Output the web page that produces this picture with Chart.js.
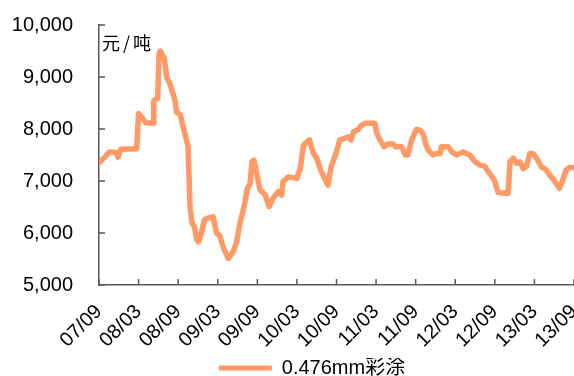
<!DOCTYPE html>
<html>
<head>
<meta charset="utf-8">
<script src="https://cdn.jsdelivr.net/npm/chart.js@4.4.1/dist/chart.umd.min.js"></script>
<style>
  html, body { margin: 0; padding: 0; background: #fff; }
  #wrap { width: 574px; height: 376px; }
</style>
</head>
<body>
<div id="wrap"><canvas id="grafico"></canvas></div>
<script>
// months counted from 2007/09, price in 元/吨
const months = [
  0, 0.8, 1.6, 2.6, 2.9, 3.3, 5.7, 6.0, 6.5, 7.1, 8.2, 8.3, 8.9, 9.1, 9.3, 9.9,
  10.3, 10.8, 11.5, 11.8, 12.3, 12.8, 13.5, 13.8, 14.1, 14.5, 14.8, 15.1, 15.5,
  16.0, 16.6, 17.3, 17.8, 18.3, 18.8, 19.6, 20.3, 20.8, 21.4, 22.1, 22.5, 22.9,
  23.2, 23.5, 23.9, 24.4, 25.2, 25.8, 26.4, 27.2, 27.7, 27.9, 28.7, 30.0, 30.5,
  31.0, 31.9, 32.5, 33.0, 33.6, 34.2, 34.7, 35.2, 36.0, 36.5, 37.3, 37.8, 38.2,
  38.6, 39.3, 39.7, 40.3, 41.8, 42.1, 42.6, 43.2, 43.8, 44.6, 44.9, 45.9, 46.4,
  46.8, 47.4, 48.1, 48.6, 49.1, 49.5, 49.9, 50.6, 51.2, 51.7, 51.9, 52.9, 53.5,
  54.2, 55.2, 55.7, 56.2, 57.0, 57.7, 58.5, 59.0, 59.6, 60.0, 60.5, 62.0, 62.3,
  62.8, 63.3, 63.8, 64.3, 64.8, 65.3, 65.8, 66.5, 67.1, 67.6, 68.3, 69.1, 69.8,
  70.3, 70.8, 71.3, 72.0
];
const prices = [
  7350, 7450, 7560, 7550, 7460, 7610, 7620, 8300, 8220, 8120, 8110, 8540, 8590, 9450, 9500, 9360,
  8980, 8850, 8560, 8320, 8280, 8020, 7660, 6500, 6200, 6100, 5880, 5830, 6000,
  6260, 6290, 6310, 6000, 5950, 5740, 5510, 5630, 5800, 6200, 6570, 6860, 6950,
  7370, 7400, 7150, 6830, 6730, 6510, 6670, 6800, 6730, 6990, 7080, 7050, 7240,
  7690, 7790, 7530, 7440, 7210, 7050, 6920, 7280, 7560, 7790, 7820, 7850, 7790,
  7950, 7990, 8060, 8110, 8110, 7920, 7790, 7660, 7710, 7710, 7660, 7660, 7500,
  7500, 7790, 7990, 7980, 7920, 7720, 7600, 7500, 7530, 7530, 7660, 7660, 7560,
  7500, 7560, 7530, 7500, 7370, 7310, 7280, 7180, 7080, 6990, 6780, 6760, 7370,
  7440, 7340, 7370, 7240, 7280, 7530, 7530, 7400, 7260, 7240, 7120, 6990, 6860,
  7020, 7210, 7260, 7260
];
const xLabels = ["07/09", "08/03", "08/09", "09/03", "09/09", "10/03", "10/09",
  "11/03", "11/09", "12/03", "12/09", "13/03", "13/09"];
const seriesName = "0.476mm彩涂";
const unitLabel = "元/吨";

const lineColor = "#FF9966";
const axisColor = "#595959";
const baseFont = "'Liberation Sans', Arial, 'Noto Sans CJK SC', sans-serif";

// inward tick marks, unit text, and the legend nudged toward the plot
const extras = {
  id: "extras",
  afterLayout(chart) {
    chart.legend.left += 50;
  },
  afterDraw(chart) {
    const { ctx, chartArea, scales } = chart;
    ctx.save();
    ctx.strokeStyle = axisColor;
    ctx.lineWidth = 1.5;
    ctx.beginPath();
    scales.y.ticks.forEach(t => {
      const y = scales.y.getPixelForValue(t.value);
      ctx.moveTo(chartArea.left, y);
      ctx.lineTo(chartArea.left + 6, y);
    });
    scales.x.ticks.forEach(t => {
      const x = scales.x.getPixelForValue(t.value);
      ctx.moveTo(x, chartArea.bottom);
      ctx.lineTo(x, chartArea.bottom - 6);
    });
    ctx.stroke();
    ctx.font = "18px 'Noto Sans CJK SC', sans-serif";
    ctx.letterSpacing = "3px";
    ctx.fillStyle = "#000";
    ctx.textBaseline = "top";
    ctx.fillText(unitLabel, chartArea.left + 3, chartArea.top + 9);
    ctx.restore();
  }
};

// drop the extra room the scales reserve around their end labels
const noEndPadding = s => {
  s.paddingTop = 0;
  s.paddingBottom = 0;
  s.paddingLeft = 0;
  s.paddingRight = 0;
};

new Chart(document.getElementById("grafico"), {
  type: "line",
  data: {
    datasets: [{
      label: seriesName,
      data: months.map((m, i) => ({ x: m, y: prices[i] })),
      borderColor: lineColor,
      backgroundColor: lineColor,
      borderWidth: 5.5,
      pointRadius: 0,
      tension: 0,
      borderJoinStyle: "round",
      borderCapStyle: "round",
      fill: false
    }]
  },
  options: {
    responsive: true,
    maintainAspectRatio: false,
    animation: false,
    layout: { padding: { left: 0, top: 25, right: 0, bottom: -12 } },
    plugins: {
      tooltip: { enabled: false },
      legend: {
        position: "bottom",
        labels: {
          color: "#000",
          font: { family: baseFont, size: 20 },
          boxWidth: 53,
          boxHeight: 5,
          padding: 0,
          generateLabels: chart => [{
            text: seriesName,
            fillStyle: lineColor,
            strokeStyle: lineColor,
            lineWidth: 0,
            hidden: false,
            datasetIndex: 0
          }]
        }
      }
    },
    scales: {
      x: {
        type: "linear",
        min: 0,
        max: 72,
        afterFit: s => { noEndPadding(s); s.height = 73; },
        grid: { display: false, drawTicks: false },
        border: { display: true, color: axisColor, width: 1.5 },
        ticks: {
          stepSize: 6,
          autoSkip: false,
          minRotation: 45,
          maxRotation: 45,
          padding: 15,
          color: "#000",
          font: { family: baseFont, size: 20 },
          callback: v => xLabels[Math.round(v / 6)]
        }
      },
      y: {
        min: 5000,
        max: 10000,
        afterFit: s => { noEndPadding(s); s.width = 99; },
        grid: { display: false, drawTicks: false },
        border: { display: true, color: axisColor, width: 1.5 },
        ticks: {
          stepSize: 1000,
          padding: 26,
          color: "#000",
          font: { family: baseFont, size: 20 },
          callback: v => v.toLocaleString("en-US")
        }
      }
    }
  },
  plugins: [extras]
});
</script>
</body>
</html>
